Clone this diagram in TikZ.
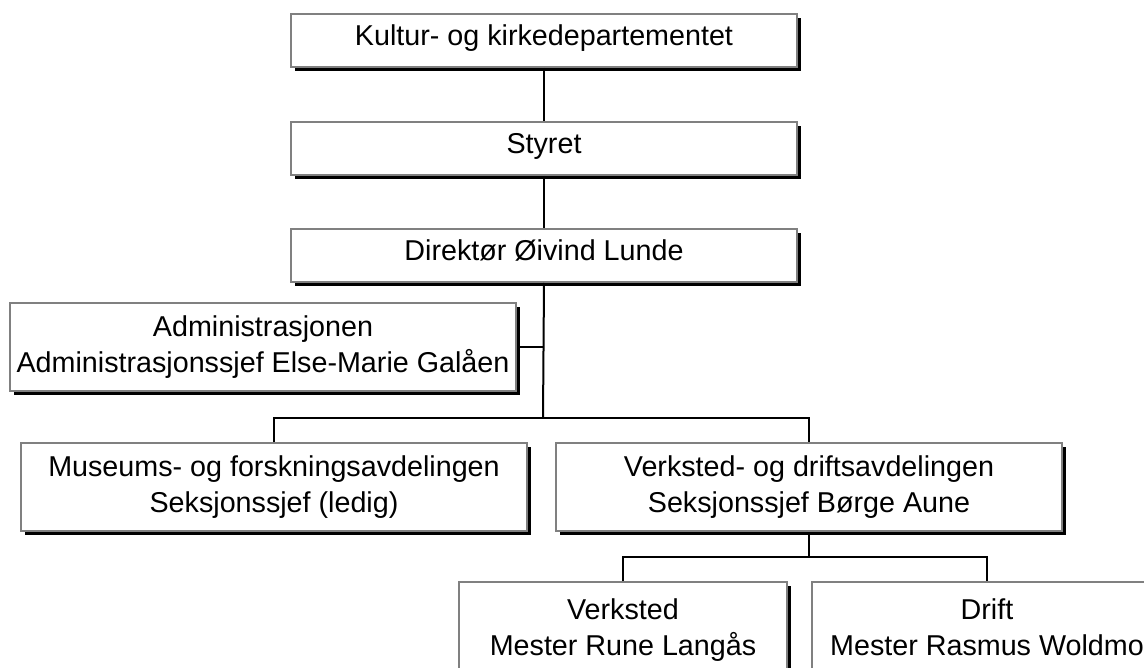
\documentclass[tikz,border=0pt]{standalone}
\usepackage{fontspec}
\setmainfont{Liberation Sans}
\usetikzlibrary{shadows}
\definecolor{boxgray}{RGB}{128,128,128}
\newcommand{\onestrut}{\vrule height 22.8pt depth 13.2pt width 0pt}
\tikzset{
  orgbox/.style={draw=boxgray, line width=2pt, fill=white, align=center,
    inner sep=0pt, font=\fontsize{28.7}{36}\selectfont,
    general shadow={fill=black, shadow xshift=4pt, shadow yshift=-4pt}},
  conn/.style={line width=2pt, black}
}
\begin{document}
\begin{tikzpicture}[x=1pt,y=-1pt]
\useasboundingbox (0,0) rectangle (1144,668);
\fill[white] (0,0) rectangle (1144,668);
\coordinate (j1) at (543,418);
\coordinate (j2) at (809,557);
\node[orgbox, minimum width=506, minimum height=53] (K) at (544,40.5) {\onestrut Kultur- og kirkedepartementet};
\node[orgbox, minimum width=506, minimum height=53] (S) at (544,148.5) {\onestrut Styret};
\node[orgbox, minimum width=506, minimum height=53] (D) at (544,255.5) {\onestrut Direktør Øivind Lunde};
\draw[conn] (K.south) -- (S.north);
\draw[conn] (S.south) -- (D.north);
\draw[conn] (D.south) -- (j1);
\node[orgbox, minimum width=506, minimum height=88] (A) at (263,347) {\strut Administrasjonen\\\strut Administrasjonssjef Else-Marie Galåen};
\draw[conn] (A.east) -- (A.east -| j1);
\node[orgbox, minimum width=506, minimum height=88] (M) at (274,487) {\strut Museums- og forskningsavdelingen\\\strut Seksjonssjef (ledig)};
\node[orgbox, minimum width=506, minimum height=88] (V) at (809,487) {\strut Verksted- og driftsavdelingen\\\strut Seksjonssjef Børge Aune};
\draw[conn] (M.north) |- (j1) -| (V.north);
\draw[conn] (V.south) -- (j2);
\node[orgbox, minimum width=328, minimum height=96] (VL) at (623,630) {\strut Verksted\\\strut Mester Rune Langås};
\node[orgbox, minimum width=350, minimum height=96] (DR) at (987,630) {\strut Drift\\\strut Mester Rasmus Woldmo};
\draw[conn] (VL.north) |- (j2) -| (DR.north);
\end{tikzpicture}
\end{document}
